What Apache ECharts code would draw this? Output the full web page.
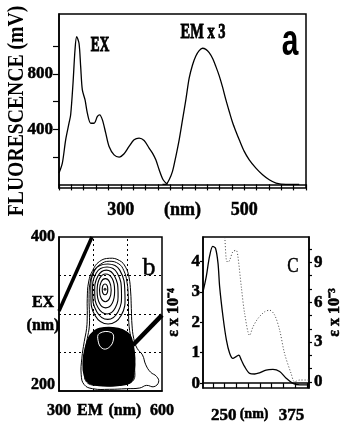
<!DOCTYPE html>
<html><head><meta charset="utf-8">
<script src="https://cdn.jsdelivr.net/npm/echarts@6/dist/echarts.min.js"></script>
<style>html,body{margin:0;padding:0;background:#fff}#c{width:343px;height:425px}</style>
</head><body><div id="c"></div>
<script>
// ---------- Panel a: fluorescence spectra (nm, mV) ----------
const exSpectrum = [[200,82],[205.4,154],[210.8,323],[216.2,443],[218.9,504],[222.7,733],[225.9,973],[228.6,1070],[232.4,1022],[235.1,853],[237.8,684],[242.2,612],[245.9,516],[251.4,443],[256.8,443],[262.2,492],[265.9,504],[270.3,467],[275.7,371],[281.1,275],[289.2,214],[297.3,198],[305.4,222],[313.5,275],[321.6,323],[329.7,335],[337.8,318],[345.9,263],[351.4,227],[356.8,178],[362.2,106],[368.6,34],[375.7,0]];
const emSpectrumX3 = [[367.6,0],[373,0],[378.4,34],[383.8,94],[389.2,202],[394.6,323],[400,467],[405.4,612],[410.8,769],[416.2,865],[421.6,930],[427,969],[432.4,986],[437.8,978],[443.2,954],[448.6,913],[454.1,853],[459.5,786],[464.9,704],[470.3,612],[475.7,528],[481.1,448],[486.5,383],[491.9,323],[500,239],[508.1,178],[518.9,118],[529.7,70],[540.5,34],[551.4,10],[567.6,0],[589,0]];
const aYTicks = [200,400,600,800,1000];
const aYLabelLow = [400];
const aYLabelHigh = 800;
const aXLabels = {300:'300',400:'(nm)',500:'500'};

// ---------- Panel b: EX/EM contour map (nm) ----------
const contourOuter = [[447,372.4],[476.4,369.4],[494,360.8],[503.8,347.9],[508.7,328.6],[510.7,307.1],[512.7,285.6],[517.6,268.4],[527.4,255.5],[543,246.9],[552.8,234],[566.6,224.5],[584.2,218.9],[590.1,211.6],[576.4,205.6],[554.8,207.3],[535.2,203.9],[496,203],[447,202.2],[398,203],[373.5,208.2],[364.7,221.1],[366.6,242.6],[373.5,264.1],[380.4,281.3],[382.3,298.5],[382.3,320],[386.2,341.5],[398,356.5],[417.6,368.1]];
const contourInner = [[446,368.5],[474.4,365],[489,356.2],[498,341.5],[501.9,322.1],[502.5,302.8],[504.3,283.4],[510.7,266.2],[515.6,251.2],[520.5,229.7],[513.6,212.5],[466.6,208.2],[417.6,207.3],[380.4,211.6],[374.5,229.7],[376.4,251.2],[382.5,268.4],[388.2,283.4],[388.6,300.6],[387.6,320],[390.1,339.3],[400.9,355.4],[421.5,364.8]];
const ring6 = [[442,365],[477,357],[492,326],[481,298],[443,287],[405,298],[393,326],[404,357]];
const ring5 = [[440,361],[470,353],[482,327],[472,303],[442,293],[410,303],[398,327],[408,353]];
const ring4 = [[438,357],[462,349],[472,328],[464,308],[440,300],[414,308],[404,328],[413,349]];
const ring3 = [[436,352],[455,346],[462,330],[455,314],[436,308],[418,314],[411,330],[418,346]];
const ring2 = [[435,346],[447,342],[452,331],[447,320],[435,316],[423,320],[418,331],[423,342]];
const ring1 = [[434,339],[440,337],[442,332],[440,327],[434,325],[428,327],[426,332],[428,337]];
const centerPeak = [[434,332]];
const lowerCore = [[417.6,281.3],[456.8,282.2],[486.2,279.2],[505.8,272.7],[515.6,259.8],[520.5,242.6],[518.5,225.4],[510.7,212.5],[476.4,207.3],[427.4,206.9],[388.2,210.3],[373.5,221.1],[370.6,238.3],[376.4,255.5],[388.2,270.5],[402.9,277.9]];
const coreHole = [[417.6,274.8],[451.9,276.1],[458.8,267.5],[445,256.3],[425.4,255.5],[413.7,265.8]];
const rayleighLine = [[300,304],[396,400]];
const secondOrderLine = [[515.6,259.8],[600,298.5]];
const bGridEX = [250,300,350];
const bGridEM = [400,500];
const bXLabelValues = [300,390,492,600];
const bXLabels = {300:'300',390:'EM',492:'(nm)',600:'600'};

// ---------- Panel c: absorption (nm, eps) ----------
const epsSolid = [[212,3.0],[218,3.5],[224,4.16],[230,4.49],[235,4.43],[239.6,3.94],[242.6,3.17],[248.8,2.18],[255,1.42],[261,0.98],[267,0.81],[273,0.87],[278,0.92],[282.5,0.76],[288.6,0.54],[297.8,0.32],[307,0.30],[316,0.34],[328,0.43],[340.7,0.45],[353,0.38],[365,0.16],[377.5,-0.01],[390,-0.06],[407,-0.06]];
const epsDotted = [[249,12],[252,10.9],[255,9.15],[258,9.0],[261,9.15],[267,9.8],[273,9.9],[276,9.5],[282.5,7.15],[288.6,5.15],[297.8,3.5],[304,4.15],[313,4.77],[325,5.27],[334.6,5.4],[343.8,5.03],[353,3.9],[362,2.15],[374,0.65],[380.5,0.02],[390,0.15],[407,0.15]];
const cXTicks = [231,252,274,295,317,338,360,381,403];
const cXLabelValues = [250,306,375];
const cXLabels = {250:'250',306:'{n|(nm)}',375:'375'};
const cLeftTicks = [0,1,2,3,4];
const cLeftLabels = [0,1,2,3,4];
const cRightTicks = [0,1,2,3,4,5,6,7,8,9,10];
const cRightLabels = [0,3,6,9];

const FONT = "'Liberation Serif',serif";
const lab = (size) => ({color:'#000', fontWeight:'bold', fontFamily:FONT, fontSize:size, textBorderColor:'#000', textBorderWidth:0.5});

const contourShapes = [
  {pts:contourOuter, fill:'#fff', stroke:'#000', w:1},
  {pts:contourInner, fill:'#fff', stroke:'#000', w:1},
  {pts:lowerCore, fill:'#000', stroke:'#000', w:1.5},
  {pts:coreHole, fill:'#000', stroke:'#fff', w:1},
  {pts:ring6, fill:'#fff', stroke:'#000', w:1.1},
  {pts:ring5, fill:'#fff', stroke:'#000', w:1.1},
  {pts:ring4, fill:'#fff', stroke:'#000', w:1.1},
  {pts:ring3, fill:'#fff', stroke:'#000', w:1.1},
  {pts:ring2, fill:'#fff', stroke:'#000', w:1.1},
  {pts:ring1, fill:'#fff', stroke:'#000', w:1.1}
];

const chart = echarts.init(document.getElementById('c'), null, {renderer:'canvas'});
const axisLine = {show:true, lineStyle:{color:'#000', width:1.5}};
const gridBase = {show:true, borderColor:'#000', borderWidth:1.5, containLabel:false, outerBoundsMode:'none'};
const baseGraphic = [
  {id:'ylab', type:'text', x:17, y:111, rotation:Math.PI/2, scaleX:0.82,
   style:{text:'FLUORESCENCE (mV)', font:"bold 24px 'Liberation Serif', serif", fill:'#000', align:'center', verticalAlign:'middle'}},
  {id:'ex', type:'text', x:100, y:45, scaleX:0.6, style:{text:'EX', font:"bold 22px "+FONT, fill:'#000', stroke:'#000', lineWidth:1, align:'center', verticalAlign:'middle'}},
  {id:'em', type:'text', x:203, y:33, scaleX:0.72, style:{text:'EM x 3', font:"bold 20px "+FONT, fill:'#000', stroke:'#000', lineWidth:0.8, align:'center', verticalAlign:'middle'}},
  {id:'pa', type:'text', x:290, y:43, scaleX:0.68, style:{text:'a', font:"bold 44px 'Liberation Sans', sans-serif", fill:'#000', align:'center', verticalAlign:'middle'}},
  {id:'pb', type:'text', x:149, y:268, style:{text:'b', font:"26px 'Liberation Serif', serif", fill:'#000', stroke:'#000', lineWidth:0.5, align:'center', verticalAlign:'middle'}},
  {id:'pc', type:'text', x:293, y:267, scaleX:0.85, style:{text:'C', font:"20px 'Liberation Serif', serif", fill:'#000', stroke:'#000', lineWidth:0.5, align:'center', verticalAlign:'middle'}}
];
chart.setOption({
  animation:false,
  backgroundColor:'#fff',
  grid:[
    {...gridBase, left:59, top:14, width:247, height:174},
    {...gridBase, left:59, top:237, width:103, height:154},
    {...gridBase, left:203, top:237, width:106, height:151}
  ],
  xAxis:[
    {gridIndex:0, type:'value', min:200, max:600, interval:20, axisLine,
     axisTick:{show:true, length:6, lineStyle:{color:'#000', width:1.2}},
     axisLabel:{interval:0, margin:13, ...lab(18), formatter:v=>aXLabels[v]||''},
     splitLine:{show:false}},
    {gridIndex:1, type:'value', min:300, max:600, interval:100, axisLine,
     axisTick:{show:false},
     axisLabel:{margin:12, ...lab(16), showMinLabel:true, showMaxLabel:true, hideOverlap:false,
       customValues:bXLabelValues, formatter:v=>bXLabels[v]||''},
     splitLine:{show:false}},
    {gridIndex:2, type:'value', min:212, max:407, axisLine,
     axisTick:{show:true, length:5, customValues:cXTicks, lineStyle:{color:'#000', width:1.2}},
     axisLabel:{margin:19, ...lab(17), showMinLabel:true, showMaxLabel:true, hideOverlap:false,
       customValues:cXLabelValues, formatter:v=>cXLabels[v]||'',
       rich:{n:{...lab(14)}}},
     splitLine:{show:false}}
  ],
  yAxis:[
    {gridIndex:0, type:'value', min:-26, max:1234, axisLine,
     axisTick:{show:true, length:6, customValues:aYTicks, lineStyle:{color:'#000', width:1.2}},
     axisLabel:{margin:6, ...lab(17), customValues:aYLabelLow},
     splitLine:{show:false}},
    {gridIndex:1, type:'value', min:200, max:400, interval:50, axisLine,
     axisTick:{show:false},
     axisLabel:{margin:4, ...lab(16), showMinLabel:true, showMaxLabel:true,
       formatter:v=>v===200?'{lo|200}':(v===400?'400':''),
       rich:{lo:{...lab(16), padding:[0,0,12,0]}}},
     name:'EX\n(nm)', nameLocation:'middle', nameRotate:0, nameGap:16, nameMoveOverlap:false,
     nameTextStyle:{...lab(16), align:'center', verticalAlign:'middle', lineHeight:23},
     splitLine:{show:false}},
    {gridIndex:2, type:'value', min:-0.16, max:4.8, axisLine,
     axisTick:{show:true, length:3, customValues:cLeftTicks, lineStyle:{color:'#000', width:1.2}},
     axisLabel:{margin:3, ...lab(17), customValues:cLeftLabels},
     name:'ε x 10⁻⁴', nameLocation:'middle', nameRotate:90, nameGap:21, nameMoveOverlap:false,
     nameTextStyle:lab(16),
     splitLine:{show:false}},
    {gridIndex:2, type:'value', position:'right', min:-0.45, max:10.9, axisLine,
     axisTick:{show:true, length:3, customValues:cRightTicks, lineStyle:{color:'#000', width:1.2}},
     axisLabel:{margin:5, ...lab(17), customValues:cRightLabels},
     name:'ε x 10⁻³', nameLocation:'middle', nameRotate:90, nameGap:18, nameMoveOverlap:false,
     nameTextStyle:lab(16),
     splitLine:{show:false}}
  ],
  series:[
    {type:'line', xAxisIndex:0, yAxisIndex:0, data:exSpectrum, smooth:0.3, symbol:'none', lineStyle:{color:'#000', width:1.3}},
    {type:'line', xAxisIndex:0, yAxisIndex:0, data:emSpectrumX3, smooth:0.3, symbol:'none', lineStyle:{color:'#000', width:1.3}},
    {type:'line', xAxisIndex:1, yAxisIndex:1, data:[[300,200]], symbol:'none', z:1,
     markLine:{silent:true, symbol:'none', label:{show:false},
       lineStyle:{type:[2,3], color:'#000', width:1},
       data:[...bGridEX.map(v=>({yAxis:v})), ...bGridEM.map(v=>({xAxis:v}))]}},
    {type:'custom', xAxisIndex:1, yAxisIndex:1, z:3, clip:true,
     data:contourShapes.map(s=>s.pts[0]),
     renderItem:(params, api)=>{
       const s = contourShapes[params.dataIndex];
       return {type:'polygon', shape:{points:s.pts.map(p=>api.coord(p)), smooth:0.45},
               style:{fill:s.fill, stroke:s.stroke, lineWidth:s.w}};
     }},
    {type:'scatter', xAxisIndex:1, yAxisIndex:1, data:centerPeak, symbolSize:3, itemStyle:{color:'#000'}, z:4},
    {type:'line', xAxisIndex:1, yAxisIndex:1, data:rayleighLine, symbol:'none', z:5, lineStyle:{color:'#000', width:3.5}},
    {type:'line', xAxisIndex:1, yAxisIndex:1, data:secondOrderLine, symbol:'none', z:5, lineStyle:{color:'#000', width:4.5}},
    {type:'line', xAxisIndex:2, yAxisIndex:2, data:epsSolid, smooth:0.3, symbol:'none', lineStyle:{color:'#000', width:1.3}},
    {type:'line', xAxisIndex:2, yAxisIndex:3, data:epsDotted, smooth:0.3, symbol:'none', lineStyle:{color:'#444', width:1, type:[1,2]}}
  ],
  graphic:baseGraphic
});
// 800 tick label of panel a, positioned through the axis scale
const y800 = chart.convertToPixel({yAxisIndex:0}, aYLabelHigh);
const xAxisLeft = chart.convertToPixel({xAxisIndex:0}, 200);
chart.setOption({graphic:[...baseGraphic,
  {id:'y800', type:'text', z:100, x:xAxisLeft-6, y:y800,
   style:{text:String(aYLabelHigh), font:"bold 17px "+FONT, fill:'#000', stroke:'#000', lineWidth:0.5, align:'right', verticalAlign:'middle'}}
]});
</script></body></html>
